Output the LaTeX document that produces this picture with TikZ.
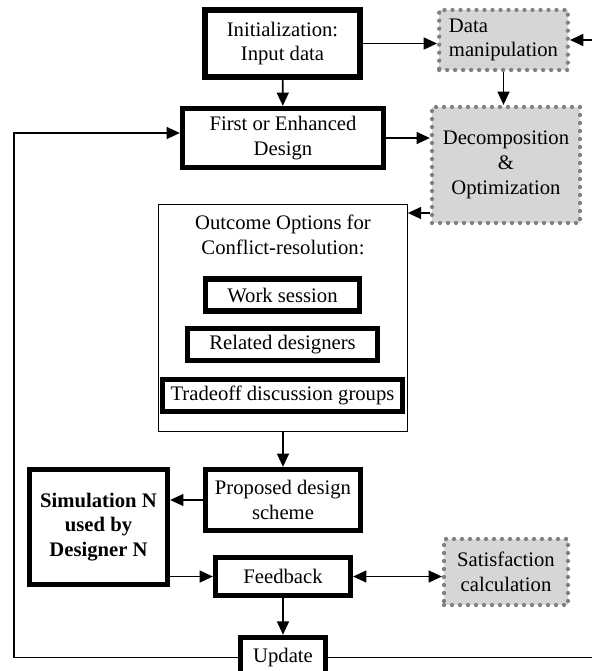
\documentclass[tikz,border=0pt]{standalone}
\usepackage{fontspec}
\setmainfont{Liberation Serif}
\usetikzlibrary{arrows.meta}
\begin{document}
\begin{tikzpicture}[x=0.75pt, y=-0.75pt, >={Triangle[length=10pt,width=9pt]}, line width=1.2pt,
    every node/.style={font=\fontsize{15.5}{18.5}\selectfont, align=center},
    thickbox/.style={draw, line width=4.2pt, fill=white, inner sep=1pt},
    thinbox/.style={draw, line width=0.8pt},
    greybox/.style={draw=black!50, fill=black!16, line width=3.2pt,
        dash pattern=on 0pt off 6pt, line cap=round, inner sep=1pt}]
        \useasboundingbox (0,0) rectangle (592,671);
        \clip (0,0) rectangle (592,671);
        % main column
        \node [thickbox, minimum width=116.5pt, minimum height=50.5pt] (init) at (282.5,43.5) {Initialization:\\Input data};
        \node [thickbox, minimum width=150.5pt, minimum height=44pt] (first) at (283,138) {First or Enhanced\\Design};
        \node [thinbox, minimum width=186.5pt, minimum height=170pt] (outcome) at (283,318) {};
        \node (outtitle) at (283,235) {Outcome Options for\\Conflict-resolution:};
        \foreach \n/\y/\w/\t in {work/295/115.25/Work session,
                                 related/344.5/142.25/Related designers,
                                 tradeoff/395.5/179.75/Tradeoff discussion groups}
        {
            \node [thickbox, minimum width=\w pt, minimum height=24pt] (\n) at (282.5,\y) {\t};
        }
        \node [thickbox, minimum width=116pt, minimum height=45.5pt] (proposed) at (283,500) {Proposed design\\scheme};
        \node [thickbox, minimum width=103.25pt, minimum height=86pt, font=\fontsize{15.5}{18.5}\selectfont\bfseries] (sim) at (98.5,527) {Simulation N\\used by\\Designer N};
        \node [thickbox, minimum width=101pt, minimum height=28.25pt] (feedback) at (283,576.5) {Feedback};
        \node [thickbox, minimum width=63.5pt, minimum height=30pt] (update) at (283,657.5) {Update};
        % grey boxes
        \node [greybox, minimum width=96.5pt, minimum height=45pt, align=left] (data) at (503.5,40) {Data\\manipulation};
        \node [greybox, minimum width=111pt, minimum height=87pt] (decomp) at (506,165) {Decomposition\\\&\\Optimization};
        \node [greybox, minimum width=93pt, minimum height=49.5pt] (satisf) at (506,572) {Satisfaction\\calculation};
        % connectors
        \coordinate (lc) at (14,133);
        \coordinate (rc) at (598,0);
        \coordinate (dout) at ([yshift=-36pt]decomp.west);
        \draw [->] (init.east) -- (init.east -| data.west);
        \draw [->] (init) -- (first);
        \draw [->] (data) -- (data.south |- decomp.north);
        \draw [->] (first.east) -- (first.east -| decomp.west);
        \draw [->] (dout) -- (dout -| outcome.east);
        \draw [->] (outcome) -- (proposed);
        \draw [->] (proposed.west) -- (proposed.west -| sim.east);
        \draw [->] (feedback.west -| sim.east) -- (feedback.west);
        \draw [<->] (feedback.east) -- (feedback.east -| satisf.west);
        \draw [->] (feedback) -- (update);
        \draw [->] (update.west) -| (lc) -- (lc -| first.west);
        \draw [->] (update.east) -| (rc |- data.east) -- (data.east);
\end{tikzpicture}
\end{document}
